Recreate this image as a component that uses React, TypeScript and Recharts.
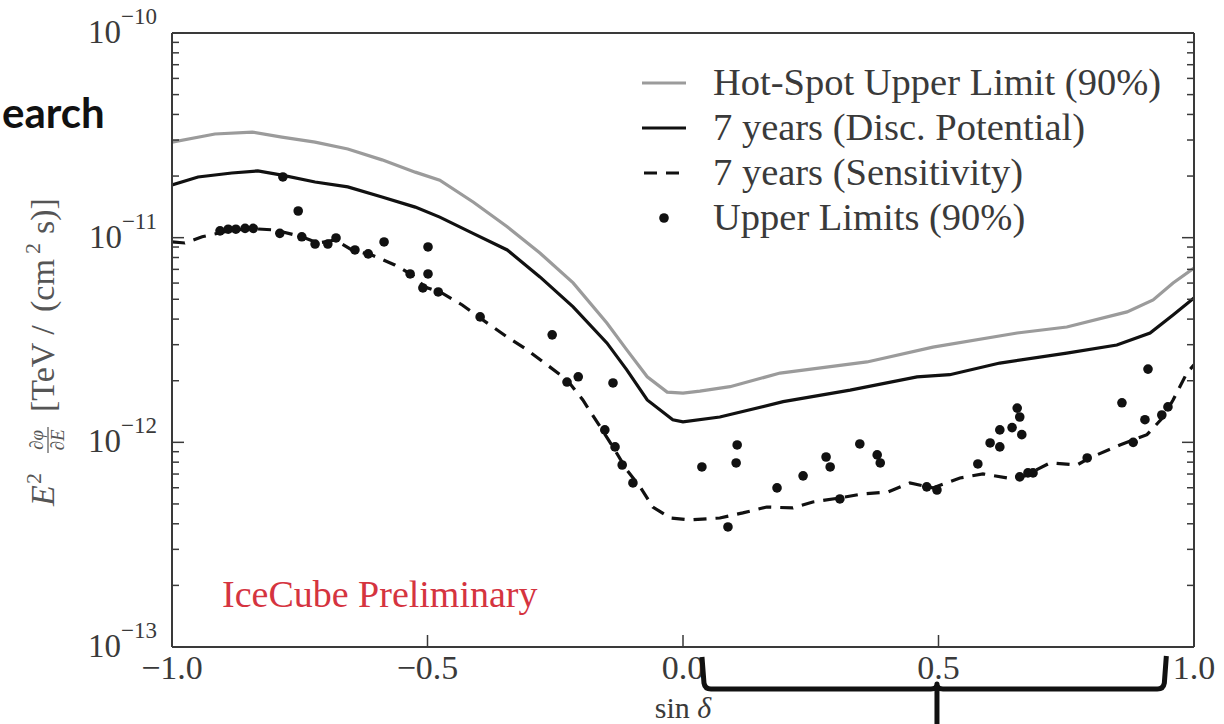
import React from 'react';
import { ComposedChart, Line, Scatter, XAxis, YAxis } from 'recharts';

// ---------------- data ----------------
const sinDecHotSpot = [-1.0, -0.916, -0.843, -0.785, -0.72, -0.656, -0.589, -0.524, -0.476, -0.41, -0.344, -0.28, -0.215, -0.149, -0.11, -0.07, -0.031, 0.0, 0.033, 0.092, 0.19, 0.36, 0.489, 0.654, 0.751, 0.869, 0.92, 0.959, 1.0];
const hotSpotUpperLimit = [2.93e-11, 3.21e-11, 3.28e-11, 3.1e-11, 2.93e-11, 2.71e-11, 2.4e-11, 2.09e-11, 1.91e-11, 1.49e-11, 1.13e-11, 8.42e-12, 6.01e-12, 3.83e-12, 2.83e-12, 2.09e-12, 1.76e-12, 1.74e-12, 1.78e-12, 1.87e-12, 2.18e-12, 2.47e-12, 2.92e-12, 3.42e-12, 3.66e-12, 4.34e-12, 4.96e-12, 6.01e-12, 7.11e-12];

const sinDecDisc = [-1.0, -0.949, -0.883, -0.832, -0.785, -0.72, -0.656, -0.589, -0.524, -0.476, -0.411, -0.344, -0.28, -0.215, -0.149, -0.11, -0.07, -0.02, 0.0, 0.072, 0.196, 0.327, 0.458, 0.522, 0.62, 0.751, 0.849, 0.914, 0.959, 1.0];
const discPotential = [1.81e-11, 1.98e-11, 2.07e-11, 2.12e-11, 2.02e-11, 1.87e-11, 1.77e-11, 1.58e-11, 1.41e-11, 1.26e-11, 1.05e-11, 8.71e-12, 6.43e-12, 4.59e-12, 3.06e-12, 2.26e-12, 1.61e-12, 1.29e-12, 1.26e-12, 1.33e-12, 1.58e-12, 1.8e-12, 2.09e-12, 2.14e-12, 2.44e-12, 2.73e-12, 2.99e-12, 3.42e-12, 4.19e-12, 5.07e-12];

const sinDecSens = [-1.0, -0.975, -0.941, -0.896, -0.851, -0.798, -0.746, -0.714, -0.681, -0.648, -0.609, -0.564, -0.53, -0.505, -0.472, -0.432, -0.397, -0.344, -0.305, -0.266, -0.227, -0.196, -0.162, -0.137, -0.11, -0.084, -0.059, -0.025, 0.014, 0.072, 0.117, 0.164, 0.215, 0.254, 0.307, 0.352, 0.401, 0.444, 0.489, 0.542, 0.587, 0.634, 0.669, 0.718, 0.771, 0.796, 0.855, 0.908, 0.939, 0.959, 0.986, 1.0];
const sensitivity = [9.53e-12, 9.42e-12, 1.01e-11, 1.07e-11, 1.11e-11, 1.09e-11, 1.01e-11, 9.42e-12, 9.74e-12, 8.71e-12, 8.23e-12, 7.36e-12, 6.57e-12, 5.74e-12, 5.37e-12, 4.69e-12, 4.05e-12, 3.27e-12, 2.83e-12, 2.39e-12, 2.02e-12, 1.61e-12, 1.19e-12, 9.5e-13, 7.33e-13, 6.06e-13, 4.83e-13, 4.27e-13, 4.18e-13, 4.27e-13, 4.52e-13, 4.83e-13, 4.78e-13, 5.11e-13, 5.35e-13, 5.6e-13, 5.72e-13, 6.33e-13, 5.99e-13, 6.7e-13, 7.01e-13, 6.7e-13, 6.86e-13, 7.93e-13, 7.75e-13, 8.39e-13, 9.71e-13, 1.09e-12, 1.32e-12, 1.61e-12, 2.18e-12, 2.39e-12];

const sinDecUL = [-0.783, -0.753, -0.906, -0.89, -0.875, -0.857, -0.841, -0.789, -0.746, -0.72, -0.695, -0.679, -0.642, -0.616, -0.585, -0.534, -0.499, -0.499, -0.509, -0.479, -0.397, -0.256, -0.227, -0.205, -0.137, -0.153, -0.133, -0.119, -0.098, 0.037, 0.106, 0.104, 0.088, 0.184, 0.235, 0.28, 0.288, 0.346, 0.38, 0.386, 0.307, 0.477, 0.497, 0.577, 0.601, 0.62, 0.62, 0.644, 0.654, 0.659, 0.663, 0.659, 0.675, 0.685, 0.791, 0.859, 0.881, 0.904, 0.91, 0.937, 0.949];
const upperLimits = [1.98e-11, 1.35e-11, 1.08e-11, 1.1e-11, 1.1e-11, 1.11e-11, 1.11e-11, 1.05e-11, 1.01e-11, 9.31e-12, 9.31e-12, 9.97e-12, 8.71e-12, 8.33e-12, 9.53e-12, 6.65e-12, 9.01e-12, 6.65e-12, 5.68e-12, 5.43e-12, 4.1e-12, 3.35e-12, 1.97e-12, 2.09e-12, 1.95e-12, 1.15e-12, 9.5e-13, 7.75e-13, 6.33e-13, 7.58e-13, 9.71e-13, 7.93e-13, 3.86e-13, 5.99e-13, 6.86e-13, 8.48e-13, 7.58e-13, 9.82e-13, 8.68e-13, 7.93e-13, 5.29e-13, 6.06e-13, 5.85e-13, 7.84e-13, 9.93e-13, 9.5e-13, 1.15e-12, 1.18e-12, 1.47e-12, 1.33e-12, 1.09e-12, 6.78e-13, 7.09e-13, 7.09e-13, 8.39e-13, 1.56e-12, 1.0e-12, 1.29e-12, 2.28e-12, 1.36e-12, 1.49e-12];

const xTicks = [-1.0, -0.5, 0.0, 0.5, 1.0];
const xTickLabels = ['\u22121.0', '\u22120.5', '0.0', '0.5', '1.0'];
const yMajorTicks = [1e-13, 1e-12, 1e-11, 1e-10];
const yTickExponents = ['\u221213', '\u221212', '\u221211', '\u221210'];
const yMinorMantissas = [2, 3, 4, 5, 6, 7, 8, 9];
const yAllTicks = [
  ...yMajorTicks,
  ...yMajorTicks.slice(0, 3).flatMap((d) => yMinorMantissas.map((m) => m * d)),
];

const legendItems = [
  { label: 'Hot-Spot Upper Limit (90%)', kind: 'line', color: '#9b9b9b' },
  { label: '7 years (Disc. Potential)', kind: 'line', color: '#111111' },
  { label: '7 years (Sensitivity)', kind: 'dash', color: '#111111' },
  { label: 'Upper Limits (90%)', kind: 'dot', color: '#111111' },
];

// ---------------- layout / style ----------------
const W = 1224;
const H = 724;
const PLOT = { left: 172, top: 33, right: 1194, bottom: 647 };
const Y_AXIS_W = 150;
const X_AXIS_H = 50;
const SERIF = '"Liberation Serif", "DejaVu Serif", serif';
const TEXT = '#3a3a3a';
const FRAME = '#3a3a3a';
const MAJOR = 12;
const MINOR = 7;

const toPoints = (xs: number[], ys: number[]) => xs.map((s, i) => ({ s, v: ys[i] }));
const hotSpotData = toPoints(sinDecHotSpot, hotSpotUpperLimit);
const discData = toPoints(sinDecDisc, discPotential);
const sensData = toPoints(sinDecSens, sensitivity);
const ulData = toPoints(sinDecUL, upperLimits);

const isMajorY = (v: number) => yMajorTicks.some((t) => Math.abs(Math.log10(t) - Math.log10(v)) < 1e-6);
const majorIndexY = (v: number) => yMajorTicks.findIndex((t) => Math.abs(Math.log10(t) - Math.log10(v)) < 1e-6);

function BottomTick(props: any) {
  const { x, y, payload } = props;
  const i = xTicks.findIndex((t) => Math.abs(t - payload.value) < 1e-9);
  return (
    <g>
      <line x1={x} y1={y} x2={x} y2={y - MAJOR} stroke={FRAME} strokeWidth={1.5} />
      <text x={x} y={y + 32} textAnchor="middle" fontFamily={SERIF} fontSize={34} fill={TEXT}>
        {xTickLabels[i]}
      </text>
    </g>
  );
}

function TopTick(props: any) {
  const { x, y } = props;
  return <line x1={x} y1={y} x2={x} y2={y + MAJOR} stroke={FRAME} strokeWidth={1.5} />;
}

function LeftTick(props: any) {
  const { x, y, payload } = props;
  const major = isMajorY(payload.value);
  const len = major ? MAJOR : MINOR;
  const i = majorIndexY(payload.value);
  return (
    <g>
      <line x1={x} y1={y} x2={x + len} y2={y} stroke={FRAME} strokeWidth={1.5} />
      {major && (
        <text x={x - 15} y={y + 10} textAnchor="end" fontFamily={SERIF} fill={TEXT}>
          <tspan fontSize={33}>10</tspan>
          <tspan fontSize={23} dy={-19}>{yTickExponents[i]}</tspan>
        </text>
      )}
    </g>
  );
}

function RightTick(props: any) {
  const { x, y, payload } = props;
  const len = isMajorY(payload.value) ? MAJOR : MINOR;
  return <line x1={x} y1={y} x2={x - len} y2={y} stroke={FRAME} strokeWidth={1.5} />;
}

const Dot = (p: any) => <circle cx={p.cx} cy={p.cy} r={4.8} fill="#111" />;

const sToPx = (s: number) => PLOT.left + ((s + 1) / 2) * (PLOT.right - PLOT.left);

function Overlay() {
  const legX = 642;
  const legTextX = 713;
  const rowY = [83, 128, 173, 218];
  const bl = sToPx(0.043);
  const br = sToPx(0.94);
  const bc = sToPx(0.497);
  const by = 689;
  return (
    <svg width={W} height={H} style={{ position: 'absolute', left: 0, top: 0, pointerEvents: 'none' }}>
      <text x={2} y={128} textAnchor="start" fontFamily="Lato, 'Open Sans', sans-serif" fontWeight={700} fontSize={42} fill="#111">
        earch
      </text>

      {legendItems.map((it, k) => (
        <g key={it.label}>
          {it.kind === 'line' && (
            <line x1={legX} y1={rowY[k]} x2={legX + 44} y2={rowY[k]} stroke={it.color} strokeWidth={3.2} />
          )}
          {it.kind === 'dash' && (
            <line x1={legX + 2} y1={rowY[k]} x2={legX + 44} y2={rowY[k]} stroke={it.color} strokeWidth={3.2} strokeDasharray="13 9" />
          )}
          {it.kind === 'dot' && <circle cx={legX + 22} cy={rowY[k]} r={4.8} fill={it.color} />}
          <text x={legTextX} y={rowY[k] + 12} fontFamily={SERIF} fontSize={38.5} fill={TEXT}>
            {it.label}
          </text>
        </g>
      ))}

      <text x={222} y={607} fontFamily={SERIF} fontSize={38} fill="#d5343f">
        IceCube Preliminary
      </text>

      <text x={(PLOT.left + PLOT.right) / 2} y={718} textAnchor="middle" fontFamily={SERIF} fontSize={30} fill={TEXT}>
        sin <tspan fontStyle="italic">δ</tspan>
      </text>

      <g transform={`translate(54, ${(PLOT.top + PLOT.bottom) / 2}) rotate(-90)`} fontFamily={SERIF} fill="#555">
        <text x={-166} y={0} fontSize={34} fontStyle="italic">E</text>
        <text x={-144} y={-13} fontSize={22}>2</text>
        <text x={-100} y={-11} fontSize={19} textAnchor="middle">∂<tspan fontStyle="italic">φ</tspan></text>
        <line x1={-113} y1={-6} x2={-87} y2={-6} stroke="#555" strokeWidth={1.2} />
        <text x={-100} y={10} fontSize={19} textAnchor="middle">∂<tspan fontStyle="italic">E</tspan></text>
        <text x={-72} y={0} fontSize={34}>[TeV /</text>
        <text x={28} y={0} fontSize={34}>(cm</text>
        <text x={86} y={-14} fontSize={22}>2</text>
        <text x={106} y={0} fontSize={34}>s)]</text>
      </g>

      <path
        d={`M ${bl - 3} ${by - 32} L ${bl - 1} ${by - 6} Q ${bl} ${by} ${bl + 6} ${by} L ${bc - 6} ${by} Q ${bc} ${by} ${bc} ${by - 5} Q ${bc} ${by} ${bc + 6} ${by} L ${br - 6} ${by} Q ${br} ${by} ${br + 1} ${by - 6} L ${br + 3} ${by - 33}`}
        fill="none"
        stroke="#111"
        strokeWidth={5}
        strokeLinejoin="round"
      />
      <line x1={bc} y1={by - 2} x2={bc} y2={H} stroke="#111" strokeWidth={5} />
    </svg>
  );
}

export default function App() {
  return (
    <div style={{ position: 'absolute', left: 0, top: 0, width: W, height: H, background: '#fff', overflow: 'hidden' }}>
      <ComposedChart
        width={W}
        height={H}
        margin={{
          top: PLOT.top - 1,
          right: W - PLOT.right - 1,
          bottom: H - PLOT.bottom - X_AXIS_H,
          left: PLOT.left - Y_AXIS_W,
        }}
      >
        <YAxis
          yAxisId="right"
          orientation="right"
          type="number"
          scale="log"
          domain={[1e-13, 1e-10]}
          allowDataOverflow
          ticks={yAllTicks}
          interval={0}
          width={1}
          tickSize={0}
          tickMargin={0}
          tickLine={false}
          tick={<RightTick />}
          axisLine={{ stroke: FRAME, strokeWidth: 2 }}
        />
        <XAxis
          xAxisId="top"
          orientation="top"
          type="number"
          domain={[-1, 1]}
          allowDataOverflow
          ticks={xTicks}
          interval={0}
          height={1}
          tickSize={0}
          tickMargin={0}
          tickLine={false}
          tick={<TopTick />}
          axisLine={{ stroke: FRAME, strokeWidth: 2 }}
        />
        <XAxis
          xAxisId="x"
          dataKey="s"
          orientation="bottom"
          type="number"
          domain={[-1, 1]}
          allowDataOverflow
          ticks={xTicks}
          interval={0}
          height={X_AXIS_H}
          tickSize={0}
          tickMargin={0}
          tickLine={false}
          tick={<BottomTick />}
          axisLine={{ stroke: FRAME, strokeWidth: 2 }}
        />
        <YAxis
          yAxisId="y"
          dataKey="v"
          orientation="left"
          type="number"
          scale="log"
          domain={[1e-13, 1e-10]}
          allowDataOverflow
          ticks={yAllTicks}
          interval={0}
          width={Y_AXIS_W}
          tickSize={0}
          tickMargin={0}
          tickLine={false}
          tick={<LeftTick />}
          axisLine={{ stroke: FRAME, strokeWidth: 2 }}
        />
        <Line
          xAxisId="x"
          yAxisId="y"
          data={hotSpotData}
          dataKey="v"
          type="linear"
          stroke="#9b9b9b"
          strokeWidth={3.2}
          dot={false}
          activeDot={false}
          isAnimationActive={false}
        />
        <Line
          xAxisId="x"
          yAxisId="y"
          data={discData}
          dataKey="v"
          type="linear"
          stroke="#111111"
          strokeWidth={3.2}
          dot={false}
          activeDot={false}
          isAnimationActive={false}
        />
        <Line
          xAxisId="x"
          yAxisId="y"
          data={sensData}
          dataKey="v"
          type="linear"
          stroke="#111111"
          strokeWidth={3.2}
          strokeDasharray="13 9"
          dot={false}
          activeDot={false}
          isAnimationActive={false}
        />
        <Scatter xAxisId="x" yAxisId="y" data={ulData} fill="#111" shape={Dot} isAnimationActive={false} />
      </ComposedChart>
      <Overlay />
    </div>
  );
}
